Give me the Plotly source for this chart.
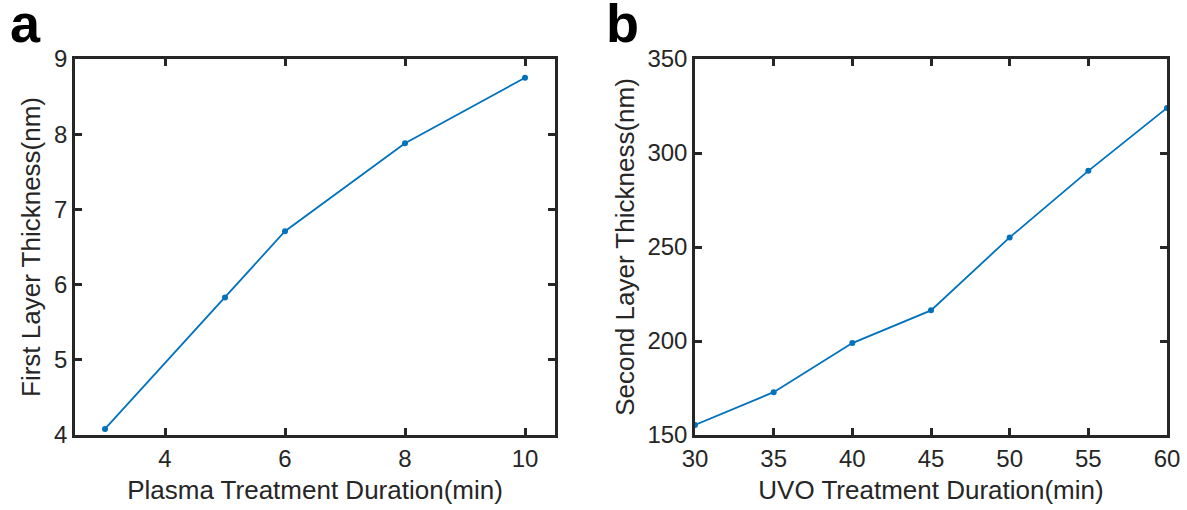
import plotly.graph_objects as go

# Panel a: plasma treatment
plasma_min = [3, 5, 6, 8, 10]
first_layer_nm = [4.08, 5.83, 6.71, 7.88, 8.75]

# Panel b: UVO treatment
uvo_min = [30, 35, 40, 45, 50, 55, 60]
second_layer_nm = [155.3, 172.8, 198.9, 216.3, 255.1, 290.5, 324.0]

W, H = 1187, 510
LINE = "#0072BD"
AX = "#262626"
FONT = "Liberation Sans, Arial, sans-serif"

# plot-area margins in px
ML, MR, MT, MB = 75, 20, 59, 75
PW = W - ML - MR
PH = H - MT - MB

fig = go.Figure()
fig.add_trace(go.Scatter(x=plasma_min, y=first_layer_nm, mode="lines+markers",
                         line=dict(color=LINE, width=1.8),
                         marker=dict(color=LINE, size=6),
                         xaxis="x", yaxis="y", showlegend=False))
fig.add_trace(go.Scatter(x=uvo_min, y=second_layer_nm, mode="lines+markers",
                         line=dict(color=LINE, width=1.8),
                         marker=dict(color=LINE, size=6),
                         xaxis="x2", yaxis="y2", showlegend=False))

axis_style = dict(showline=True, linecolor=AX, linewidth=2.5, mirror="ticks",
                  ticks="inside", ticklen=7, tickwidth=2.5, tickcolor=AX,
                  showgrid=False, zeroline=False, automargin=False,
                  tickfont=dict(family=FONT, size=24, color=AX),
                  title_font=dict(family=FONT, size=26, color=AX))

fig.update_layout(
    width=W, height=H, margin=dict(l=ML, r=MR, t=MT, b=MB),
    plot_bgcolor="white", paper_bgcolor="white",
    xaxis=dict(domain=[0, (555 - ML) / PW], range=[2.5, 10.5],
               tickvals=[4, 6, 8, 10], anchor="y", ticklabelstandoff=0,
               title=dict(text="Plasma Treatment Duration(min)", standoff=11),
               **axis_style),
    yaxis=dict(domain=[0, 1], range=[4, 9], tickvals=[4, 5, 6, 7, 8, 9], anchor="x",
               title=dict(text="First Layer Thickness(nm)", standoff=6),
               **axis_style),
    xaxis2=dict(domain=[(695 - ML) / PW, 1], range=[30, 60],
                tickvals=[30, 35, 40, 45, 50, 55, 60], anchor="y2",
                ticklabelstandoff=0,
                title=dict(text="UVO Treatment Duration(min)", standoff=11),
                **axis_style),
    yaxis2=dict(domain=[0, 1], range=[150, 350], tickvals=[150, 200, 250, 300, 350],
                anchor="x2",
                title=dict(text="Second Layer Thickness(nm)", standoff=6),
                **axis_style),
)

# panel letters, positioned in pixels from the top-left corner
for letter, px, py in [("a", 8, -9), ("b", 604, -9)]:
    fig.add_annotation(text=f"<b>{letter}</b>",
                       x=(px - ML) / PW, y=(H - MB - py) / PH,
                       xref="paper", yref="paper", xanchor="left", yanchor="top",
                       showarrow=False,
                       font=dict(family=FONT, size=54, color="black"))

fig.write_html("out.html")
